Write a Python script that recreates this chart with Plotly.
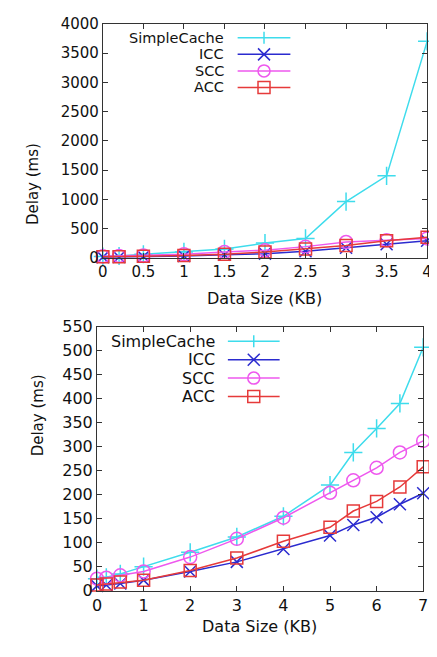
import plotly.graph_objects as go

# ---------------- data ----------------
series_names = ["SimpleCache", "ICC", "SCC", "ACC"]

top_x = [0, 0.2, 0.5, 1, 1.5, 2, 2.5, 3, 3.5, 4]
top_simplecache = [20, 30, 60, 100, 150, 250, 330, 960, 1400, 3700]
top_icc = [10, 12, 20, 30, 50, 70, 110, 170, 230, 290]
top_scc = [25, 30, 40, 60, 100, 130, 190, 270, 300, 330]
top_acc = [15, 15, 25, 40, 60, 100, 150, 210, 290, 350]

bot_x = [0, 0.2, 0.5, 1, 2, 3, 4, 5, 5.5, 6, 6.5, 7]
bot_simplecache = [25, 28, 35, 50, 80, 112, 155, 220, 288, 338, 390, 507]
bot_icc = [10, 12, 15, 22, 40, 60, 87, 115, 137, 153, 180, 203]
bot_scc = [25, 27, 32, 40, 70, 108, 152, 204, 230, 256, 288, 312]
bot_acc = [12, 14, 18, 22, 42, 68, 103, 132, 166, 186, 216, 258]

# ---------------- style ----------------
VW, VH = 437, 657          # browser viewport
OFF = 8                    # default body margin of the page
W, H = VW - OFF, VH - OFF  # figure size
colors = ["#3EDCEC", "#2B2BCF", "#EE58EE", "#E63A3A"]
symbols = ["cross-thin-open", "x-thin-open", "circle-open", "square-open"]
msizes = [13, 12, 13, 12]
FONT = "DejaVu Sans, Arial, sans-serif"
TXT = "#111111"

fig = go.Figure()

top_vals = [top_simplecache, top_icc, top_scc, top_acc]
bot_vals = [bot_simplecache, bot_icc, bot_scc, bot_acc]

for i, name in enumerate(series_names):
    fig.add_trace(go.Scatter(
        x=top_x, y=top_vals[i], name=name, mode="lines+markers",
        line=dict(color=colors[i], width=1.5),
        marker=dict(symbol=symbols[i], size=msizes[i], color=colors[i],
                    line=dict(color=colors[i], width=1.5)),
        xaxis="x", yaxis="y", showlegend=False, cliponaxis=False))
for i, name in enumerate(series_names):
    fig.add_trace(go.Scatter(
        x=bot_x, y=bot_vals[i], name=name, mode="lines+markers",
        line=dict(color=colors[i], width=1.5),
        marker=dict(symbol=symbols[i], size=msizes[i], color=colors[i],
                    line=dict(color=colors[i], width=1.5)),
        xaxis="x2", yaxis="y2", showlegend=False, cliponaxis=False))


def px(x):
    """viewport x pixel -> paper fraction"""
    return (x - OFF) / W


def py(y):
    """viewport y pixel (from top) -> paper fraction"""
    return 1 - (y - OFF) / H


def axis_common(fs):
    return dict(
        showgrid=False, zeroline=False, showline=True, linecolor="#333333",
        linewidth=1, mirror="ticks", ticks="inside", ticklen=5,
        tickcolor="#333333", tickfont=dict(family=FONT, size=fs, color=TXT),
    )


fig.update_layout(
    width=W, height=H,
    margin=dict(l=0, r=0, t=0, b=0),
    paper_bgcolor="white", plot_bgcolor="white",
    font=dict(family=FONT, color=TXT),
    xaxis=dict(domain=[px(100), px(432)], range=[0, 4], dtick=0.5,
               anchor="y", **axis_common(15)),
    yaxis=dict(domain=[py(256), py(15)], range=[0, 4000], dtick=500,
               anchor="x", **axis_common(15)),
    xaxis2=dict(domain=[px(94), px(428)], range=[0, 7], dtick=1,
                anchor="y2", **axis_common(16)),
    yaxis2=dict(domain=[py(599), py(327)], range=[0, 550], dtick=50,
                anchor="x2", **axis_common(16)),
)

annotations = []
shapes = []

# axis titles
annotations += [
    dict(text="Data Size (KB)", x=px(266), y=py(298), xref="paper", yref="paper",
         showarrow=False, font=dict(size=16, family=FONT, color=TXT)),
    dict(text="Delay (ms)", x=px(17), y=py(136), xref="paper", yref="paper",
         showarrow=False, textangle=-90, font=dict(size=15, family=FONT, color=TXT)),
    dict(text="Data Size (KB)", x=px(260), y=py(648), xref="paper", yref="paper",
         showarrow=False, font=dict(size=16, family=FONT, color=TXT)),
    dict(text="Delay (ms)", x=px(22), y=py(463), xref="paper", yref="paper",
         showarrow=False, textangle=-90, font=dict(size=15, family=FONT, color=TXT)),
]


def legend(text_right, line_x0, line_x1, rows_y, fs):
    mid = (line_x0 + line_x1) / 2
    for i, name in enumerate(series_names):
        y = rows_y[i]
        annotations.append(dict(text=name, x=px(text_right), y=py(y), xref="paper",
                                yref="paper", xanchor="right", yanchor="middle",
                                showarrow=False,
                                font=dict(size=fs, family=FONT, color=TXT)))
        c = colors[i]
        shapes.append(dict(type="line", xref="paper", yref="paper",
                           x0=px(line_x0), x1=px(line_x1), y0=py(y), y1=py(y),
                           line=dict(color=c, width=1.5)))
        r = 6
        base = dict(xref="paper", yref="paper", xsizemode="pixel", ysizemode="pixel",
                    xanchor=px(mid), yanchor=py(y), line=dict(color=c, width=1.5))
        if i == 0:
            shapes.append(dict(type="line", x0=0, x1=0, y0=-r, y1=r, **base))
        elif i == 1:
            shapes.append(dict(type="line", x0=-r, x1=r, y0=-r, y1=r, **base))
            shapes.append(dict(type="line", x0=-r, x1=r, y0=r, y1=-r, **base))
        elif i == 2:
            shapes.append(dict(type="circle", x0=-r, x1=r, y0=-r, y1=r, **base))
        else:
            shapes.append(dict(type="rect", x0=-r, x1=r, y0=-r, y1=r, **base))


legend(226, 238, 292, [29.5, 46.5, 63.5, 80.5], 14.5)
legend(217, 228, 281, [342, 361, 380, 399], 16)

fig.update_layout(annotations=annotations, shapes=shapes)
fig.write_html("out.html")
